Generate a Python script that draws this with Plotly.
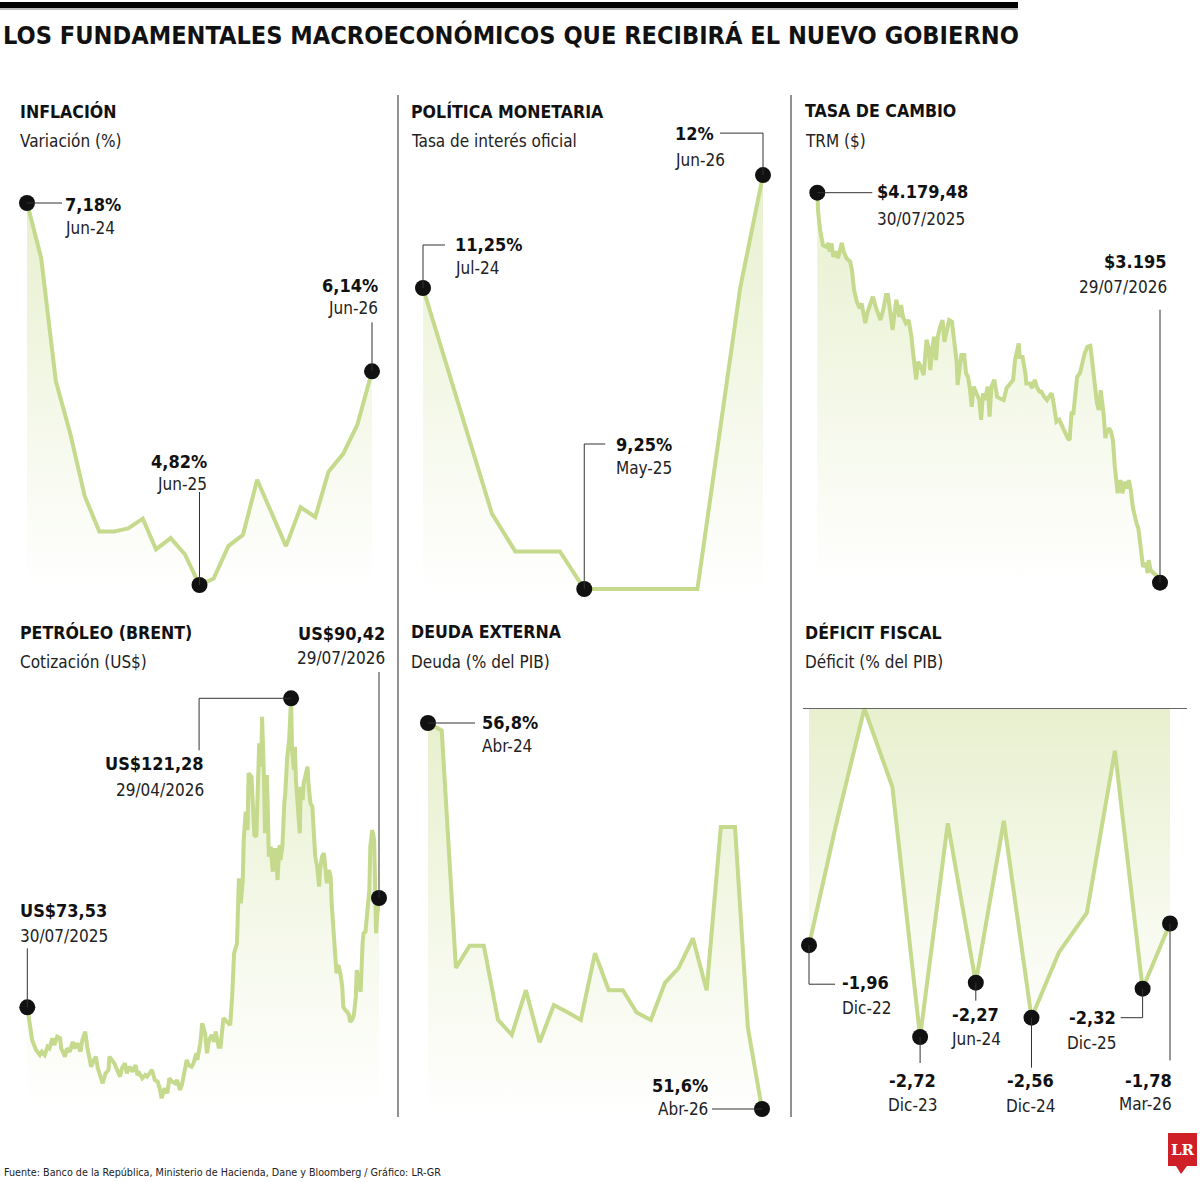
import plotly.graph_objects as go
import pandas as pd

W, H = 1200, 1182

# ---------------- DATA ----------------
infl_months = ["2024-06", "2024-07", "2024-08", "2024-09", "2024-10", "2024-11", "2024-12",
               "2025-01", "2025-02", "2025-03", "2025-04", "2025-05", "2025-06", "2025-07",
               "2025-08", "2025-09", "2025-10", "2025-11", "2025-12", "2026-01", "2026-02",
               "2026-03", "2026-04", "2026-05", "2026-06"]
infl_values = [7.18, 6.84, 6.08, 5.75, 5.37, 5.15, 5.15, 5.17, 5.23, 5.04, 5.11, 5.01, 4.82,
               4.86, 5.06, 5.13, 5.47, 5.26, 5.06, 5.30, 5.24, 5.52, 5.63, 5.81, 6.14]

tasa_dates = ["2024-07-01", "2024-11-20", "2025-01-07", "2025-04-09", "2025-05-29",
              "2026-01-17", "2026-04-15", "2026-06-01"]
tasa_values = [11.25, 9.75, 9.50, 9.50, 9.25, 9.25, 11.25, 12.00]

trm_start = "2025-07-30"
trm_day = [0, 1, 3, 6, 9, 12, 13, 15, 17, 20, 22, 26, 28, 31, 35, 37, 39, 42, 45, 47,
           49, 51, 53, 56, 59, 62, 65, 67, 70, 73, 75, 77, 80, 82, 84, 87, 89, 91, 94, 97,
           100, 102, 105, 107, 110, 113, 114, 116, 118, 120, 122, 124, 126, 128, 130, 133, 135, 137, 140, 143,
           145, 148, 149, 151, 153, 156, 158, 160, 162, 164, 166, 169, 172, 174, 176, 178, 181, 183, 185, 188,
           191, 194, 198, 201, 205, 208, 210, 214, 215, 218, 221, 222, 226, 228, 231, 233, 236, 238, 241, 244,
           246, 249, 251, 254, 257, 260, 263, 266, 268, 270, 272, 274, 276, 279, 281, 284, 287, 290, 291, 293,
           295, 297, 299, 301, 304, 306, 307, 310, 312, 314, 316, 317, 319, 322, 324, 327, 329, 331, 333, 335,
           337, 339, 341, 343, 345, 346, 349, 351, 352, 354, 357, 360, 364]
trm_values = [4179.48, 4128, 4085, 4047, 4043, 4052, 4031, 4052, 4018, 4031,
              4014, 4053, 4031, 4014, 4005, 3980, 3934, 3904, 3888, 3900,
              3875, 3850, 3875, 3896, 3917, 3892, 3875, 3858, 3883, 3921,
              3921, 3883, 3833, 3875, 3909, 3866, 3896, 3866, 3850, 3858,
              3816, 3770, 3708, 3753, 3740, 3719, 3757, 3808, 3791, 3732,
              3782, 3816, 3757, 3816, 3837, 3858, 3803, 3825, 3858, 3854,
              3808, 3753, 3694, 3745, 3770, 3770, 3724, 3715, 3686, 3639,
              3690, 3673, 3656, 3606, 3673, 3656, 3690, 3614, 3690, 3707,
              3664, 3660, 3656, 3686, 3698, 3707, 3757, 3799, 3765, 3765,
              3724, 3698, 3698, 3686, 3707, 3690, 3677, 3677, 3664, 3656,
              3664, 3673, 3648, 3601, 3606, 3589, 3572, 3560, 3555, 3623,
              3623, 3673, 3715, 3724, 3749, 3774, 3791, 3793, 3774, 3724,
              3681, 3648, 3631, 3681, 3623, 3560, 3572, 3585, 3576, 3555,
              3488, 3454, 3421, 3454, 3421, 3450, 3433, 3454, 3429, 3387,
              3362, 3345, 3332, 3286, 3252, 3235, 3244, 3219, 3252, 3227,
              3219, 3214, 3195]

brent_start = "2025-07-30"
brent_day = [0, 2, 5, 9, 13, 15, 18, 21, 23, 26, 28, 31, 34, 35, 39, 41, 44, 47, 49, 52,
             55, 57, 60, 62, 64, 66, 69, 71, 73, 76, 78, 81, 84, 85, 88, 90, 93, 96, 98, 101,
             103, 106, 109, 112, 114, 116, 119, 122, 124, 127, 129, 132, 135, 137, 139, 142, 145, 147, 150, 153,
             155, 158, 160, 163, 165, 167, 170, 172, 175, 176, 179, 181, 184, 186, 188, 191, 193, 195, 198, 200,
             203, 205, 208, 210, 212, 214, 217, 218, 219, 221, 223, 224, 226, 228, 229, 232, 233, 235, 237, 238,
             240, 242, 243, 245, 246, 248, 249, 250, 252, 254, 255, 257, 259, 261, 262, 264, 266, 267, 269, 271,
             273, 274, 276, 277, 278, 280, 282, 283, 285, 286, 288, 290, 291, 293, 295, 297, 298, 300, 302, 303,
             305, 307, 309, 310, 312, 314, 315, 317, 319, 320, 322, 324, 326, 327, 329, 331, 333, 334, 336, 338,
             340, 341, 343, 345, 347, 348, 350, 352, 354, 355, 357, 359, 360, 361, 362, 364]
brent_values = [73.53, 71.06, 68.48, 66.93, 66.16, 66.67, 66.16, 67.44, 67.19, 68.74,
                67.70, 68.99, 68.74, 67.19, 65.90, 67.19, 66.67, 68.21, 67.19, 67.97,
                66.67, 68.48, 69.76, 67.44, 65.90, 64.35, 65.39, 65.90, 64.11, 62.56,
                61.79, 63.33, 63.84, 65.90, 65.39, 64.88, 63.84, 62.81, 64.11, 64.88,
                63.33, 64.35, 63.58, 64.61, 63.07, 63.33, 62.56, 63.07, 62.81, 63.33,
                63.84, 62.30, 62.03, 61.01, 59.47, 61.01, 60.24, 62.56, 62.03, 61.79,
                62.30, 60.75, 61.52, 63.84, 65.39, 64.61, 64.35, 64.88, 66.42, 65.39,
                67.97, 71.06, 69.51, 66.42, 68.48, 69.25, 68.21, 69.76, 67.44, 67.44,
                71.83, 71.57, 71.06, 70.79, 75.17, 81.87, 83.42, 89.07, 93.46, 89.60,
                93.20, 99.38, 103.75, 100.92, 109.68, 109.16, 105.56, 100.15, 99.89, 107.11,
                114.32, 110.71, 118.43, 108.65, 100.42, 109.43, 103.51, 96.80, 98.35, 94.48,
                97.84, 97.84, 93.20, 98.61, 96.29, 98.35, 105.05, 106.60, 112.25, 114.84,
                121.28, 113.29, 110.20, 113.80, 108.65, 104.02, 100.42, 107.62, 105.56, 108.14,
                109.16, 110.71, 108.14, 105.05, 104.53, 99.38, 96.80, 95.26, 92.17, 94.75,
                96.80, 97.33, 93.71, 92.69, 94.75, 93.71, 89.60, 84.44, 79.80, 78.78,
                80.07, 78.78, 76.71, 73.62, 73.11, 72.85, 72.34, 71.31, 71.57, 72.34,
                75.17, 79.29, 77.24, 75.94, 83.42, 84.96, 85.21, 88.57, 91.66, 98.35,
                100.92, 99.38, 93.71, 84.96, 87.53, 90.42]

deuda_months = ["2024-04", "2024-05", "2024-06", "2024-07", "2024-08", "2024-09", "2024-10",
                "2024-11", "2024-12", "2025-01", "2025-02", "2025-03", "2025-04", "2025-05",
                "2025-06", "2025-07", "2025-08", "2025-09", "2025-10", "2025-11", "2025-12",
                "2026-01", "2026-02", "2026-03", "2026-04"]
deuda_values = [56.8, 56.7, 53.5, 53.8, 53.8, 52.8, 52.6, 53.2, 52.5, 53.0, 52.9, 52.8, 53.7,
                53.2, 53.2, 52.9, 52.8, 53.3, 53.5, 53.9, 53.2, 55.4, 55.4, 52.7, 51.6]

deficit_quarters = ["2022-12", "2023-03", "2023-06", "2023-09", "2023-12", "2024-03", "2024-06",
                    "2024-09", "2024-12", "2025-03", "2025-06", "2025-09", "2025-12", "2026-03"]
deficit_values = [-1.96, -0.95, 0.0, -0.65, -2.72, -0.95, -2.27, -0.93, -2.56, -2.02, -1.69,
                  -0.35, -2.32, -1.78]

panel_titles = ["INFLACIÓN", "POLÍTICA MONETARIA", "TASA DE CAMBIO",
                "PETRÓLEO (BRENT)", "DEUDA EXTERNA", "DÉFICIT FISCAL"]
panel_subtitles = ["Variación (%)", "Tasa de interés oficial", "TRM ($)",
                   "Cotización (US$)", "Deuda (% del PIB)", "Déficit (% del PIB)"]

trm_dates = [d.strftime("%Y-%m-%d") for d in pd.Timestamp(trm_start) + pd.to_timedelta(trm_day, unit="D")]
brent_dates = [d.strftime("%Y-%m-%d") for d in pd.Timestamp(brent_start) + pd.to_timedelta(brent_day, unit="D")]

series = {
    1: (infl_months, infl_values),
    2: (tasa_dates, tasa_values),
    3: (trm_dates, trm_values),
    4: (brent_dates, brent_values),
    5: (deuda_months, deuda_values),
    6: (deficit_quarters, deficit_values),
}

# ---------------- STYLE / LAYOUT GEOMETRY ----------------
FONT = "DejaVu Sans Condensed, Liberation Sans Narrow, Arial Narrow, sans-serif"
LINE = "#c5da8c"
FILL_TOP = "rgba(200,219,140,0.42)"
FILL_BOT = "rgba(200,219,140,0.0)"
DOT = "#111111"
LEAD = "#333333"
SZ_MAIN, SZ_PT, SZ_PS, SZ_LB, SZ_LS, SZ_FOOT = 25.1, 17.6, 17, 18, 17, 10.7

# pixel anchors for each panel: x (date, px) twice, y (value, px) twice, plot box (l, r, t, b)
panels = {
    1: dict(xa=("2024-06-01", 27, "2026-06-01", 372), ya=(7.18, 203, 4.82, 585), box=(10, 392, 150, 588)),
    2: dict(xa=("2024-07-01", 423, "2026-06-01", 763), ya=(11.25, 288, 9.25, 589), box=(405, 785, 115, 592)),
    3: dict(xa=("2025-07-30", 817.3, "2026-07-29", 1160), ya=(4179.48, 192.7, 3195, 582.7), box=(800, 1192, 160, 587)),
    4: dict(xa=("2025-07-30", 27.3, "2026-07-29", 379), ya=(73.53, 1007.3, 121.28, 698.3), box=(10, 392, 640, 1106)),
    5: dict(xa=("2024-04-01", 428, "2026-04-01", 762), ya=(56.8, 723, 51.6, 1109), box=(405, 785, 690, 1110)),
    6: dict(xa=("2022-12-01", 809, "2026-03-01", 1170), ya=(0.0, 708.5, -2.72, 1037), box=(800, 1192, 690, 1110)),
}


def lin(p, a_px, a_v, b_px, b_v):
    return a_v + (p - a_px) * (b_v - a_v) / (b_px - a_px)


def ms(d):
    return pd.Timestamp(d).value / 1e6


def ms_str(v):
    return pd.Timestamp(v, unit="ms").strftime("%Y-%m-%d %H:%M:%S")


fig = go.Figure()
layout_axes = {}
for i, p in panels.items():
    l, r, t, b = p["box"]
    d0, px0, d1, px1 = p["xa"]
    v0, py0, v1, py1 = p["ya"]
    xr = [ms_str(lin(l, px0, ms(d0), px1, ms(d1))), ms_str(lin(r, px0, ms(d0), px1, ms(d1)))]
    yr = [lin(b, py0, v0, py1, v1), lin(t, py0, v0, py1, v1)]
    sfx = "" if i == 1 else str(i)
    layout_axes["xaxis" + sfx] = dict(domain=[l / W, r / W], range=xr, type="date", visible=False,
                                      anchor="y" + sfx, fixedrange=True)
    layout_axes["yaxis" + sfx] = dict(domain=[1 - b / H, 1 - t / H], range=yr, visible=False,
                                      anchor="x" + sfx, fixedrange=True)

# gradient extents (value of white end, value of green end)
grad = {1: (4.8, 7.18), 2: (9.2, 12.0), 3: (3190, 4180), 4: (58, 121.3), 5: (51.5, 56.8), 6: (-2.75, 0.0)}

for i, (xs, ys) in series.items():
    sfx = "" if i == 1 else str(i)
    fig.add_trace(go.Scatter(
        x=xs, y=ys, xaxis="x" + sfx, yaxis="y" + sfx, mode="lines",
        line=dict(color=LINE, width=4),
        fill="tozeroy",
        fillgradient=dict(type="vertical", colorscale=[[0, FILL_BOT], [1, FILL_TOP]],
                          start=grad[i][0], stop=grad[i][1]),
        hoverinfo="skip", showlegend=False))

# call-outs: (panel, point index, bold, sub, xanchor, dx, dy_bold, dy_sub, leader path in px)
callouts = [
    (1, 0, "7,18%", "Jun-24", "left", 38, -1, -25, "M0,0 L35,0"),
    (1, 12, "4,82%", "Jun-25", "right", 7, 124, 101, "M0,0 L0,93"),
    (1, 24, "6,14%", "Jun-26", "right", 6, 86, 63, "M0,0 L0,49"),
    (2, 0, "11,25%", "Jul-24", "left", 32, 44, 20, "M0,0 L0,43 L22,43"),
    (2, 4, "9,25%", "May-25", "left", 32, 145, 121, "M0,0 L0,145 L21,145"),
    (2, 7, "12%", "Jun-26", "left", -88, 42, 15, "M0,0 L0,42 L-43,42"),
    (3, 0, "$4.179,48", "30/07/2025", "left", 60, 1, -26, "M0,0 L55,0"),
    (3, len(trm_values) - 1, "$3.195", "29/07/2026", "right", 7, 321, 296, "M0,0 L0,273"),
    (4, 0, "US$73,53", "30/07/2025", "left", -7, 97, 71, "M0,0 L0,59"),
    (4, 120, "US$121,28", "29/04/2026", "right", -87, -65, -92, "M0,0 L-92,0 L-92,-52"),
    (4, len(brent_values) - 1, "US$90,42", "29/07/2026", "right", 6, 265, 240, "M0,0 L0,226"),
    (5, 0, "56,8%", "Abr-24", "left", 54, 1, -23, "M0,0 L47,0"),
    (5, 24, "51,6%", "Abr-26", "right", -54, 24, 0, "M0,0 L-50,0"),
    (6, 0, "-1,96", "Dic-22", "left", 33, -37, -63, "M0,0 L0,-39 L26,-39"),
    (6, 4, "-2,72", "Dic-23", "center", -8, -43, -68, "M0,0 L0,-26"),
    (6, 6, "-2,27", "Jun-24", "center", 0, -32, -56, "M0,0 L0,-18"),
    (6, 8, "-2,56", "Dic-24", "center", -1, -63, -88, "M0,0 L0,-50"),
    (6, 12, "-2,32", "Dic-25", "right", -27, -29, -54, "M0,0 L0,-29 L-22,-29"),
    (6, 13, "-1,78", "Mar-26", "right", 2, -157, -181, "M0,0 L0,-137"),
]
PAD = {"left": -2, "right": 2, "center": 0}   # compensate annotation inner padding

shapes = []
annotations = []
dots = {}
for (pnl, idx, btxt, stxt, anc, dx, dyb, dys, path) in callouts:
    sfx = "" if pnl == 1 else str(pnl)
    xs, ys = series[pnl]
    xv, yv = xs[idx], ys[idx]
    dots.setdefault(pnl, ([], []))
    dots[pnl][0].append(xv)
    dots[pnl][1].append(yv)
    shapes.append(dict(type="path", xref="x" + sfx, yref="y" + sfx, xsizemode="pixel", ysizemode="pixel",
                       xanchor=xv, yanchor=yv, path=path, line=dict(color=LEAD, width=1), layer="above"))
    annotations.append(dict(x=xv, y=yv, xref="x" + sfx, yref="y" + sfx, text="<b>" + btxt + "</b>",
                            showarrow=False, xanchor=anc, yanchor="middle", xshift=dx + PAD[anc], yshift=dyb,
                            font=dict(family=FONT, size=SZ_LB, color="#111111")))
    annotations.append(dict(x=xv, y=yv, xref="x" + sfx, yref="y" + sfx, text=stxt,
                            showarrow=False, xanchor=anc, yanchor="middle", xshift=dx + PAD[anc], yshift=dys,
                            font=dict(family=FONT, size=SZ_LS, color="#222222")))

for pnl, (xv, yv) in dots.items():
    sfx = "" if pnl == 1 else str(pnl)
    fig.add_trace(go.Scatter(x=xv, y=yv, xaxis="x" + sfx, yaxis="y" + sfx, mode="markers",
                             marker=dict(size=16, color=DOT), cliponaxis=False,
                             hoverinfo="skip", showlegend=False))

# zero line of deficit panel
shapes.append(dict(type="line", xref="paper", yref="y6", x0=803 / W, x1=1187 / W, y0=0, y1=0,
                   line=dict(color="#666666", width=1), layer="above"))

# header bar and dividers
shapes.append(dict(type="rect", xref="paper", yref="paper", x0=0, x1=1018 / W, y0=1 - 8 / H, y1=1 - 2 / H,
                   fillcolor="#000000", line=dict(width=0)))
shapes.append(dict(type="rect", xref="paper", yref="paper", x0=0, x1=1018 / W, y0=1 - 10 / H, y1=1 - 8 / H,
                   fillcolor="#bbbbbb", line=dict(width=0)))
for xd in (398, 791):
    shapes.append(dict(type="line", xref="paper", yref="paper", x0=xd / W, x1=xd / W, y0=1 - 1117 / H,
                       y1=1 - 95 / H, line=dict(color="#555555", width=1.3)))

# logo
shapes.append(dict(type="path", xref="paper", yref="paper",
                   path="M {:.5f},{:.5f} L {:.5f},{:.5f} L {:.5f},{:.5f} L {:.5f},{:.5f} L {:.5f},{:.5f} L {:.5f},{:.5f} L {:.5f},{:.5f} Z".format(
                       1168 / W, 1 - 1133 / H, 1197 / W, 1 - 1133 / H, 1197 / W, 1 - 1166 / H,
                       1187 / W, 1 - 1166 / H, 1181 / W, 1 - 1174 / H, 1176 / W, 1 - 1166 / H,
                       1168 / W, 1 - 1166 / H),
                   fillcolor="#cf2027", line=dict(width=0)))
annotations.append(dict(x=1182.5 / W, y=1 - 1150 / H, xref="paper", yref="paper", text="<b>LR</b>",
                        showarrow=False, xanchor="center", yanchor="middle",
                        font=dict(family="DejaVu Serif, Liberation Serif, serif", size=15, color="#ffffff")))

# main title
annotations.append(dict(x=3 / W, y=1 - 35 / H, xref="paper", yref="paper", xshift=-2,
                        text="<b>LOS FUNDAMENTALES MACROECONÓMICOS QUE RECIBIRÁ EL NUEVO GOBIERNO</b>",
                        showarrow=False, xanchor="left", yanchor="middle",
                        font=dict(family=FONT, size=SZ_MAIN, color="#111111")))

# panel titles / subtitles
title_pos = [(20, 111, 141), (411, 111, 141), (805, 111, 141), (20, 632, 662), (411, 632, 662), (805, 632, 662)]
for (px, ty, sy), tt, st in zip(title_pos, panel_titles, panel_subtitles):
    annotations.append(dict(x=px / W, y=1 - ty / H, xref="paper", yref="paper", text="<b>" + tt + "</b>",
                            showarrow=False, xanchor="left", yanchor="middle", xshift=-2,
                            font=dict(family=FONT, size=SZ_PT, color="#111111")))
    annotations.append(dict(x=px / W, y=1 - sy / H, xref="paper", yref="paper", text=st,
                            showarrow=False, xanchor="left", yanchor="middle", xshift=-2,
                            font=dict(family=FONT, size=SZ_PS, color="#222222")))

# footer
annotations.append(dict(x=4 / W, y=1 - 1172 / H, xref="paper", yref="paper", xshift=-2,
                        text="Fuente: Banco de la República, Ministerio de Hacienda, Dane y Bloomberg / Gráfico: LR-GR",
                        showarrow=False, xanchor="left", yanchor="middle",
                        font=dict(family=FONT, size=SZ_FOOT, color="#222222")))

fig.update_layout(width=W, height=H, margin=dict(l=0, r=0, t=0, b=0),
                  paper_bgcolor="white", plot_bgcolor="rgba(0,0,0,0)",
                  shapes=shapes, annotations=annotations, showlegend=False, **layout_axes)

fig.write_html("out.html", config={"displayModeBar": False})
